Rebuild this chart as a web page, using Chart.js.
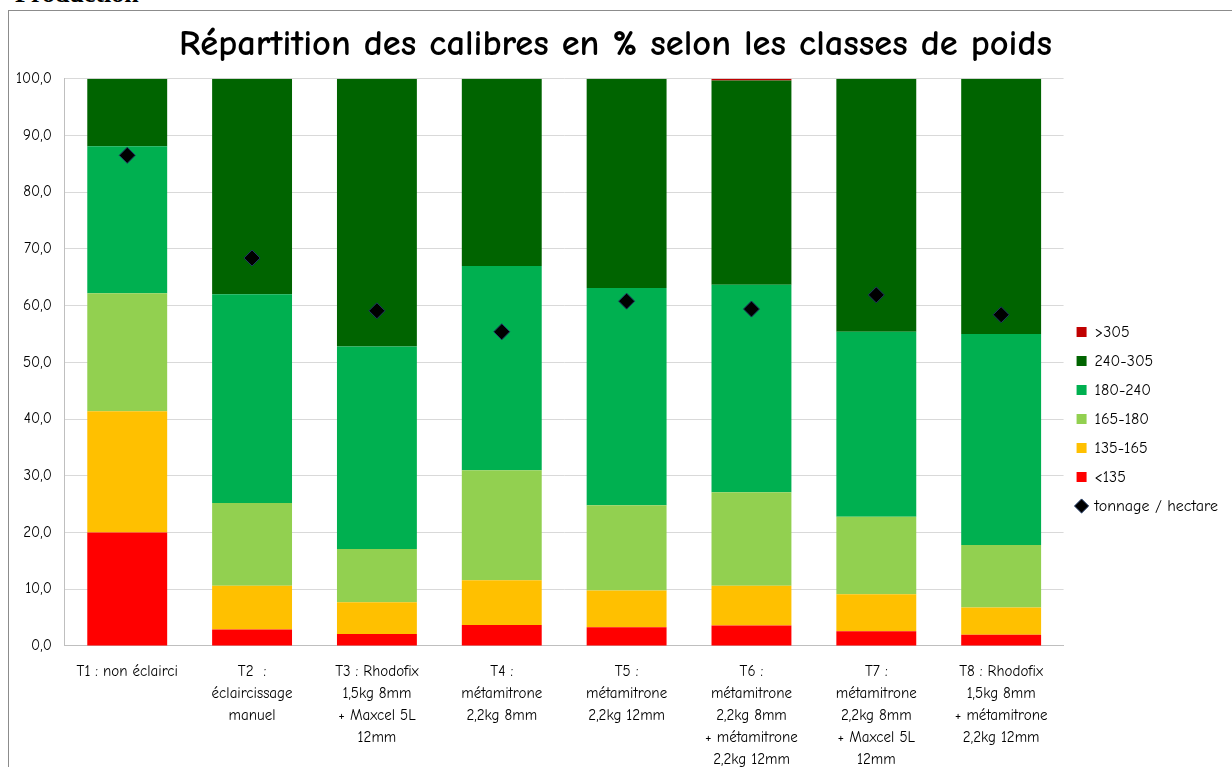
<!DOCTYPE html>
<html lang="fr">
<head>
<meta charset="utf-8">
<title>Répartition des calibres</title>
<script src="https://cdn.jsdelivr.net/npm/chart.js@4.4.1/dist/chart.umd.min.js"></script>
<style>
  html, body { margin: 0; padding: 0; background: #fff; overflow: hidden; }
  #heading { position: absolute; left: 15px; top: -19px; font: bold 26px 'Liberation Serif', serif; line-height: 26px; color: #000; }
  #frame { position: absolute; left: 8px; top: 10px; width: 1240px; height: 800px; border-left: 1px solid #8c8c8c; border-top: 1px solid #8c8c8c; }
  #box { position: absolute; left: 0; top: 0; width: 1219px; height: 775px; }
</style>
</head>
<body>
<div id="heading">Production</div>
<div id="frame"><div id="box"><canvas id="calibres"></canvas></div></div>
<script>
const traitements = [
  ['T1 : non éclairci'],
  ['T2  :', 'éclaircissage', 'manuel'],
  ['T3 : Rhodofix', '1,5kg 8mm', '+ Maxcel 5L', '12mm'],
  ['T4 :', 'métamitrone', '2,2kg 8mm'],
  ['T5 :', 'métamitrone', '2,2kg 12mm'],
  ['T6 :', 'métamitrone', '2,2kg 8mm', '+ métamitrone', '2,2kg 12mm'],
  ['T7 :', 'métamitrone', '2,2kg 8mm', '+ Maxcel 5L', '12mm'],
  ['T8 : Rhodofix', '1,5kg 8mm', '+ métamitrone', '2,2kg 12mm']
];
// % par classe de poids (g)
const moins135 = [20.0, 2.9, 2.1, 3.7, 3.3, 3.6, 2.6, 2.0];
const de135a165 = [21.4, 7.7, 5.6, 7.9, 6.5, 7.0, 6.5, 4.8];
const de165a180 = [20.8, 14.6, 9.4, 19.4, 15.0, 16.5, 13.7, 11.0];
const de180a240 = [25.9, 36.8, 35.7, 36.0, 38.3, 36.6, 32.6, 37.2];
const de240a305 = [11.9, 38.0, 47.2, 33.0, 36.9, 36.0, 44.6, 45.0];
const plus305 = [0, 0, 0, 0, 0, 0.3, 0, 0];
const tonnage = [86.5, 68.4, 59.1, 55.4, 60.8, 59.4, 61.9, 58.4];

const police = "'Comic Sans MS', 'Comic Neue', 'Noto Sans', sans-serif";

function barres(label, data, couleur) {
  return { label: label, data: data, backgroundColor: couleur, borderWidth: 0,
           stack: 'calibres', barPercentage: 0.64, categoryPercentage: 1, pointStyle: 'rect' };
}

const ctx = document.getElementById('calibres').getContext('2d');
const chart = new Chart(ctx, {
  type: 'bar',
  data: {
    labels: traitements,
    datasets: [
      barres('<135', moins135, '#ff0000'),
      barres('135-165', de135a165, '#ffc000'),
      barres('165-180', de165a180, '#92d050'),
      barres('180-240', de180a240, '#00b050'),
      barres('240-305', de240a305, '#006400'),
      barres('>305', plus305, '#c00000'),
      {
        type: 'line',
        label: 'tonnage / hectare',
        data: tonnage,
        showLine: false,
        stack: 'tonnage',
        order: -1,
        pointStyle: 'rectRot',
        pointRadius: 8,
        pointHoverRadius: 8,
        backgroundColor: '#000000',
        borderColor: '#1f3864',
        borderWidth: 1
      }
    ]
  },
  options: {
    responsive: true,
    maintainAspectRatio: false,
    animation: false,
    layout: { padding: { left: -6, right: 0, top: 0, bottom: 0 } },
    scales: {
      x: {
        stacked: true,
        grid: { display: false, drawTicks: false },
        border: { display: true, color: '#bfbfbf' },
        ticks: { autoSkip: false, maxRotation: 0, padding: 15, color: '#000',
                 font: { family: police, size: 15, lineHeight: 1.467 } }
      },
      y: {
        stacked: true,
        min: 0,
        max: 100,
        grid: { color: '#d9d9d9', drawTicks: false },
        border: { display: true, color: '#bfbfbf' },
        ticks: { stepSize: 10, padding: 13, color: '#000',
                 font: { family: police, size: 15 },
                 callback: v => v.toFixed(1).replace('.', ',') }
      }
    },
    plugins: {
      title: {
        display: true,
        text: 'Répartition des calibres en % selon les classes de poids',
        color: '#000',
        font: { family: police, size: 36.5, weight: 'bold' },
        padding: { top: 12, bottom: 12 }
      },
      legend: {
        position: 'right',
        align: 'start',
        title: { display: true, text: ' ', font: { size: 10 }, padding: { top: 288, bottom: 0 } },
        labels: {
          usePointStyle: true,
          boxWidth: 10,
          boxHeight: 10,
          padding: 13,
          color: '#000',
          font: { family: police, size: 16 },
          sort: (a, b) => {
            const rang = i => (i < 6 ? 5 - i : 6);
            return rang(a.datasetIndex) - rang(b.datasetIndex);
          }
        }
      },
      tooltip: { enabled: false }
    }
  }
});
</script>
</body>
</html>
